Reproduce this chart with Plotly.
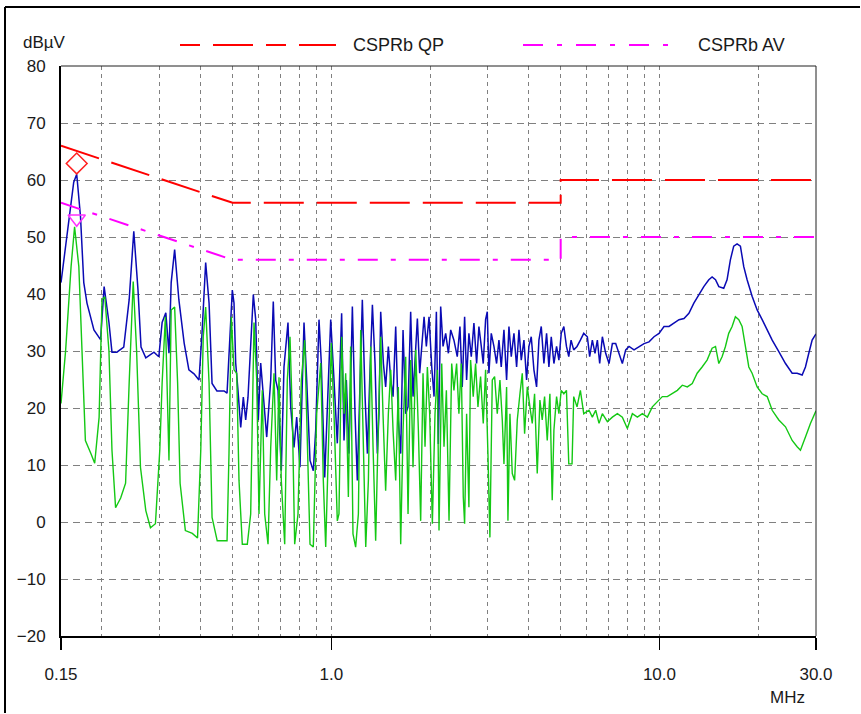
import plotly.graph_objects as go

# ---------------- data ----------------
qp_freq_mhz = [
    0.150, 0.153, 0.159, 0.164, 0.1675, 0.172, 0.176, 0.180, 0.189, 0.198,
    0.203, 0.210, 0.2145, 0.222, 0.233, 0.242, 0.250, 0.2575, 0.263, 0.272,
    0.288, 0.298, 0.305, 0.313, 0.320, 0.325, 0.333, 0.343, 0.356, 0.368,
    0.3815, 0.395, 0.403, 0.414, 0.424, 0.433, 0.448, 0.471, 0.481, 0.4935,
    0.4991, 0.5051, 0.5111, 0.5194, 0.5294, 0.5392, 0.5483, 0.5572, 0.5651, 0.5784,
    0.5882, 0.5990, 0.6091, 0.6203, 0.6354, 0.6535, 0.6654, 0.6767, 0.6878, 0.7039,
    0.7173, 0.7377, 0.7520, 0.7695, 0.7842, 0.8026, 0.8255, 0.8412, 0.8610, 0.8811,
    0.8960, 0.9171, 0.9320, 0.9546, 0.9722, 0.9956, 1.0188, 1.0428,
    1.055, 1.075, 1.093, 1.111, 1.132, 1.159, 1.181, 1.200, 1.220, 1.243,
    1.267, 1.288, 1.309, 1.334, 1.359, 1.381, 1.397, 1.414, 1.441, 1.464,
    1.492, 1.517, 1.542, 1.571, 1.600, 1.627, 1.654, 1.685, 1.713, 1.745,
    1.774, 1.799, 1.829, 1.859, 1.894, 1.917, 1.948, 1.985, 2.023, 2.056,
    2.090, 2.119, 2.154, 2.190, 2.231, 2.274, 2.311,
    2.364, 2.420, 2.466, 2.506, 2.548, 2.584, 2.626, 2.670, 2.720, 2.772,
    2.817, 2.864, 2.904, 2.952, 2.987, 3.022, 3.072, 3.130, 3.189, 3.242,
    3.295, 3.358, 3.421, 3.478, 3.535, 3.602, 3.670, 3.731, 3.792, 3.864,
    3.936, 4.001, 4.067, 4.144, 4.222, 4.292, 4.363, 4.445, 4.529, 4.604,
    4.680, 4.768, 4.858, 4.938, 5.019, 5.112, 5.207, 5.292, 5.378, 5.479,
    5.608, 5.741, 5.878,
    6.029, 6.129, 6.244, 6.362, 6.468, 6.575, 6.699, 6.857, 7.020, 7.186,
    7.356, 7.530, 7.708, 7.891, 8.078, 8.367, 8.666, 8.975, 9.295, 9.626,
    9.969, 10.325, 10.694, 11.075, 11.471, 11.880, 12.297, 12.730, 13.18, 13.65,
    14.14, 14.47, 14.82, 15.17, 15.70, 16.07, 16.45, 16.84, 17.24, 17.65,
    18.07, 18.50, 19.16, 19.85, 20.56, 21.30, 22.06, 23.11, 24.22, 25.38,
    26.28, 27.22, 27.86, 28.52, 29.20, 30.0,
]
qp_dbuv = [
    42.0, 46.0, 53.6, 59.6, 61.0, 53.6, 42.0, 38.4, 33.7, 32.0,
    41.3, 35.0, 29.8, 29.8, 30.7, 39.0, 51.0, 40.7, 30.7, 28.8,
    29.8, 29.0, 35.0, 36.7, 29.6, 42.0, 47.8, 39.0, 31.4, 26.7,
    26.0, 24.9, 32.5, 45.5, 38.4, 24.3, 23.0, 23.0, 22.6, 35.5,
    40.7, 38.4, 27.9, 23.1, 16.6, 21.9, 17.9, 21.9, 27.9, 39.9,
    35.5, 17.9, 27.9, 21.9, 14.9, 24.9, 38.7, 24.9, 23.1, 9.0,
    27.2, 35.0, 20.2, 13.1, 18.4, 9.6, 35.0, 24.9, 10.8, 9.0,
    16.1, 35.5, 27.9, 7.8, 20.2, 35.5, 24.9, 13.8,
    22.0, 36.6, 14.3, 24.9, 12.0, 37.8, 19.0, 7.3, 22.0, 39.0,
    22.0, 12.0, 24.9, 38.1, 27.8, 12.0, 19.0, 36.9, 27.8, 23.7,
    30.8, 24.9, 22.0, 34.3, 17.9, 12.0, 33.7, 19.0, 20.2, 36.9,
    22.0, 27.8, 35.7, 26.1, 31.3, 36.0, 30.8, 36.0, 27.2, 22.0,
    36.9, 13.7, 37.8, 30.8, 33.1, 29.6, 33.7,
    31.9, 29.0, 34.3, 23.7, 36.0, 24.9, 33.1, 29.0, 34.9, 27.8,
    34.3, 30.8, 27.8, 35.5, 36.9, 26.1, 33.1, 30.8, 27.8, 31.9,
    27.2, 33.7, 24.9, 34.3, 29.0, 33.1, 27.2, 33.7, 28.4, 31.9,
    24.9, 30.8, 32.5, 26.7, 23.7, 31.9, 34.3, 27.8, 33.1, 27.2,
    32.5, 27.8, 30.8, 28.4, 33.1, 34.3, 30.8, 29.0, 31.9, 30.2,
    30.8, 31.9, 33.1,
    32.5, 29.0, 31.9, 29.6, 31.9, 27.8, 32.5, 29.6, 27.8, 31.3,
    31.3, 29.6, 27.8, 30.2, 30.8, 30.2, 30.8, 31.3, 31.6, 32.5,
    33.1, 34.3, 34.3, 34.9, 35.5, 35.7, 36.6, 38.4, 39.9, 41.3,
    42.5, 43.0, 42.5, 41.3, 41.0, 42.5, 46.0, 48.4, 48.8, 48.4,
    44.8, 42.5, 39.6, 37.2, 35.5, 33.7, 31.9, 29.9, 27.8, 26.1,
    26.1, 25.8, 27.2, 29.6, 31.9, 33.0,
]

av_freq_mhz = [
    0.150, 0.155, 0.161, 0.165, 0.170, 0.174, 0.178, 0.185, 0.190, 0.196,
    0.200, 0.204, 0.210, 0.2145, 0.220, 0.228, 0.236, 0.242, 0.249, 0.255,
    0.262, 0.272, 0.281, 0.291, 0.300, 0.305, 0.312, 0.320, 0.325, 0.333,
    0.340, 0.346, 0.359, 0.377, 0.391, 0.400, 0.407, 0.414, 0.424, 0.433,
    0.449, 0.471, 0.481, 0.4876, 0.4956,
    0.5051, 0.5148, 0.5231, 0.5354, 0.5545, 0.5678, 0.5812, 0.5923, 0.6019, 0.6160,
    0.6265, 0.6412, 0.6535, 0.6688, 0.6815, 0.6926, 0.7039, 0.7209, 0.7342, 0.7482,
    0.7604, 0.7732, 0.7914, 0.8101, 0.8295, 0.8447, 0.8610, 0.8811, 0.9024, 0.9282,
    0.9452, 0.9612, 0.9839, 0.9998, 1.0188, 1.0428,
    1.055, 1.075, 1.093, 1.106, 1.127, 1.145, 1.164, 1.186, 1.209, 1.229,
    1.249, 1.273, 1.297, 1.318, 1.340, 1.365, 1.391, 1.414, 1.437, 1.464,
    1.492, 1.517, 1.542, 1.571, 1.600, 1.627, 1.654, 1.685, 1.713, 1.745,
    1.774, 1.808, 1.842, 1.872, 1.903, 1.930, 1.962, 1.994, 2.032, 2.070,
    2.105, 2.129, 2.170, 2.205, 2.242, 2.284, 2.327,
    2.364, 2.409, 2.448, 2.489, 2.524, 2.548, 2.584, 2.626, 2.657, 2.707,
    2.752, 2.798, 2.850, 2.904, 2.952, 3.001, 3.043, 3.094, 3.145, 3.204,
    3.265, 3.319, 3.358, 3.421, 3.453, 3.502, 3.560, 3.619, 3.687, 3.757,
    3.819, 3.882, 3.955, 4.029, 4.096, 4.163, 4.242, 4.322, 4.393, 4.466,
    4.550, 4.636, 4.712, 4.768, 4.858, 4.938, 5.019, 5.112, 5.207, 5.292,
    5.415, 5.479, 5.608, 5.741, 5.878,
    6.100, 6.244, 6.393, 6.544, 6.699, 6.938, 7.186, 7.443, 7.708, 7.983,
    8.269, 8.565, 8.871, 9.187, 9.514, 9.853, 10.205, 10.569, 10.946, 11.337,
    11.742, 12.160, 12.588, 13.03, 13.49, 13.97, 14.47, 14.82, 15.17, 15.52,
    15.89, 16.26, 16.65, 17.04, 17.45, 17.86, 18.28, 18.72, 19.16, 19.85,
    20.56, 21.30, 22.06, 23.11, 24.22, 25.38, 26.28, 26.90, 27.86, 28.85,
    30.0,
]
av_dbuv = [
    20.8, 30.2, 44.8, 51.8, 44.8, 30.0, 14.3, 12.0, 10.3, 18.4,
    39.0, 39.5, 30.0, 12.6, 2.5, 4.2, 6.8, 24.4, 42.2, 30.0,
    9.6, 2.0, -1.0, -0.3, 12.6, 24.4, 36.0, 10.8, 37.2, 37.7,
    24.4, 6.8, -1.5, -2.0, -2.8, 12.6, 32.5, 37.7, 24.4, 0.8,
    -3.3, -3.3, -3.3, 12.0, 36.0,
    26.7, 26.1, 7.3, -3.9, -3.9, 1.4, 35.0, 24.9, 1.4, 23.1,
    1.4, -3.9, 13.1, 26.1, 7.3, 25.4, 7.3, -3.9, 24.9, 32.5,
    19.0, -3.9, 1.4, 24.9, 31.9, 13.1, -3.9, -4.4, 19.0, 27.9,
    7.3, -4.4, 19.0, 31.4, 19.0, 0.2,
    1.4, 32.5, 19.0, 26.1, 4.4, 30.8, -2.1, -4.4, 1.4, 33.7,
    16.1, -4.4, 7.3, 30.8, 13.2, -3.3, 17.3, 32.5, 19.0, 5.5,
    19.0, 26.7, 16.1, 7.3, 23.7, -3.9, 16.1, 29.0, 1.4, 28.4,
    9.6, 30.2, 16.1, 0.2, 26.1, 13.2, 27.2, 19.0, -0.3, 19.0,
    26.7, -1.5, 27.8, 13.2, 23.1, 0.2, 27.8,
    23.1, 27.8, 19.0, 27.8, 4.4, -0.3, 19.0, 2.6, 28.4, 22.0,
    27.8, 20.2, 25.5, 17.3, 26.7, 12.0, -2.7, 24.9, 25.5, 19.0,
    24.9, 17.9, 10.2, 23.7, 0.2, 19.0, 8.5, 7.3, 17.9, 22.5,
    26.1, 15.5, 23.7, 20.2, 17.3, 22.5, 8.5, 21.4, 17.9, 22.0,
    14.3, 22.5, 3.8, 16.1, 22.0, 19.0, 23.1, 22.5, 23.1, 10.2,
    10.2, 22.0, 20.2, 23.1, 19.0,
    19.6, 18.4, 19.6, 17.3, 19.0, 17.6, 18.4, 19.0, 18.4, 16.4,
    19.0, 18.4, 19.0, 18.4, 20.2, 21.1, 22.0, 22.0, 22.5, 23.1,
    24.0, 23.7, 24.3, 26.1, 27.2, 28.4, 30.5, 30.8, 27.8, 29.0,
    30.8, 33.1, 34.3, 36.0, 35.5, 34.3, 30.8, 27.2, 26.1, 23.7,
    22.5, 22.0, 19.6, 17.9, 16.7, 14.3, 13.2, 12.6, 14.9, 17.3,
    19.5,
]

limit_freq_mhz = [0.15, 0.5, 5.0, 5.0, 30.0]
limit_qp_dbuv = [66, 56, 56, 60, 60]
limit_av_dbuv = [56, 46, 46, 50, 50]

marker_freq_mhz = [0.1675]
marker_qp_dbuv = [62.9]
marker_av_dbuv = [53.2]

x_tick_vals = [0.15, 1.0, 10.0, 30.0]
x_tick_text = ["0.15", "1.0", "10.0", "30.0"]
x_grid_vals = [0.2, 0.3, 0.4, 0.5, 0.6, 0.7, 0.8, 0.9,
               2, 3, 4, 5, 6, 7, 8, 9, 20]
y_tick_vals = [-20, -10, 0, 10, 20, 30, 40, 50, 60, 70, 80]

legend_qp = "CSPRb QP"
legend_av = "CSPRb AV"

assert len(qp_freq_mhz) == len(qp_dbuv)
assert len(av_freq_mhz) == len(av_dbuv)

# ---------------- figure ----------------
FONT = "Liberation Sans, Arial, sans-serif"
TXT = "#1a1a1a"
GRID = "#808080"

fig = go.Figure()
fig.add_trace(go.Scatter(x=qp_freq_mhz, y=qp_dbuv, mode="lines",
                         line=dict(color="#0a0ab4", width=1.5), showlegend=False))
fig.add_trace(go.Scatter(x=av_freq_mhz, y=av_dbuv, mode="lines",
                         line=dict(color="#14c814", width=1.4), showlegend=False))
fig.add_trace(go.Scatter(x=limit_freq_mhz, y=limit_qp_dbuv, mode="lines",
                         line=dict(color="#ff0000", width=2, dash="40px,13px"),
                         showlegend=False))
fig.add_trace(go.Scatter(x=limit_freq_mhz, y=limit_av_dbuv, mode="lines",
                         line=dict(color="#ff00ff", width=2, dash="20px,13px,5px,13px"),
                         showlegend=False))
fig.add_trace(go.Scatter(x=marker_freq_mhz, y=marker_qp_dbuv, mode="markers",
                         marker=dict(symbol="diamond-open", size=16, color="#ff2020",
                                     line=dict(width=1.5, color="#ff2020")),
                         showlegend=False))
fig.add_trace(go.Scatter(x=marker_freq_mhz, y=marker_av_dbuv, mode="markers",
                         marker=dict(symbol="triangle-down-open", size=15, color="#ff30ff",
                                     line=dict(width=1.5, color="#ff30ff")),
                         showlegend=False))

L, R, T, B = 61, 45, 66, 78
W, H = 861, 714
PW, PH = W - L - R, H - T - B


def px(xp):
    return (xp - L) / PW


def py(yp):
    return (H - B - yp) / PH


shapes = [
    # thin top and right plot borders
    dict(type="line", xref="paper", yref="paper", x0=0, x1=1, y0=1, y1=1,
         line=dict(color="#202020", width=1)),
    dict(type="line", xref="paper", yref="paper", x0=1, x1=1, y0=0, y1=1,
         line=dict(color="#202020", width=1)),
    # outer frame (left and top)
    dict(type="line", xref="paper", yref="paper", x0=px(5), x1=px(5), y0=py(7), y1=py(713),
         line=dict(color="#000000", width=2)),
    dict(type="line", xref="paper", yref="paper", x0=px(5), x1=px(860), y0=py(7), y1=py(7),
         line=dict(color="#000000", width=2)),
    # legend samples
    dict(type="line", xref="paper", yref="paper", x0=px(180), x1=px(336), y0=py(45), y1=py(45),
         line=dict(color="#ff0000", width=2, dash="20px,13px,40px,13px")),
    dict(type="line", xref="paper", yref="paper", x0=px(523), x1=px(673), y0=py(45), y1=py(45),
         line=dict(color="#ff00ff", width=2, dash="20px,14px,5px,14px")),
]

annotations = [
    dict(text=legend_qp, xref="paper", yref="paper", x=px(351), y=py(45),
         xanchor="left", yanchor="middle", showarrow=False,
         font=dict(family=FONT, size=18, color=TXT)),
    dict(text=legend_av, xref="paper", yref="paper", x=px(696), y=py(45),
         xanchor="left", yanchor="middle", showarrow=False,
         font=dict(family=FONT, size=18, color=TXT)),
    dict(text="dBµV", xref="paper", yref="paper", x=px(21), y=py(42),
         xanchor="left", yanchor="middle", showarrow=False,
         font=dict(family=FONT, size=17, color=TXT)),
    dict(text="MHz", xref="paper", yref="paper", x=px(787), y=py(698),
         xanchor="center", yanchor="middle", showarrow=False,
         font=dict(family=FONT, size=17, color=TXT)),
]

fig.update_layout(
    width=W, height=H,
    margin=dict(l=L, r=R, t=T, b=B, pad=0),
    paper_bgcolor="white", plot_bgcolor="white",
    showlegend=False,
    hovermode=False,
    shapes=shapes,
    annotations=annotations,
    font=dict(family=FONT, size=17, color=TXT),
)

fig.update_xaxes(
    type="log", range=[-0.823909, 1.477121],
    tickmode="array", tickvals=x_tick_vals, ticktext=x_tick_text,
    ticks="outside", ticklen=12, tickwidth=1.5, tickcolor="#000000",
    ticklabelstandoff=10,
    showline=True, linecolor="#000000", linewidth=2, mirror=False,
    showgrid=True, gridcolor=GRID, gridwidth=1, griddash="4px,4px",
    minor=dict(tickmode="array", tickvals=x_grid_vals, showgrid=True,
               gridcolor=GRID, gridwidth=1, griddash="4px,4px", ticks=""),
    zeroline=False,
    tickfont=dict(family=FONT, size=17, color=TXT),
)
fig.update_yaxes(
    range=[-20, 80], tickmode="array", tickvals=y_tick_vals,
    ticks="outside", ticklen=10, tickcolor="rgba(0,0,0,0)",
    showline=True, linecolor="#000000", linewidth=2, mirror=False,
    showgrid=True, gridcolor=GRID, gridwidth=1, griddash="7px,5px",
    zeroline=False,
    tickfont=dict(family=FONT, size=17, color=TXT),
)

fig.write_html("out.html",
               config={"displayModeBar": False, "staticPlot": True},
               post_script="document.body.style.margin='0px';")
